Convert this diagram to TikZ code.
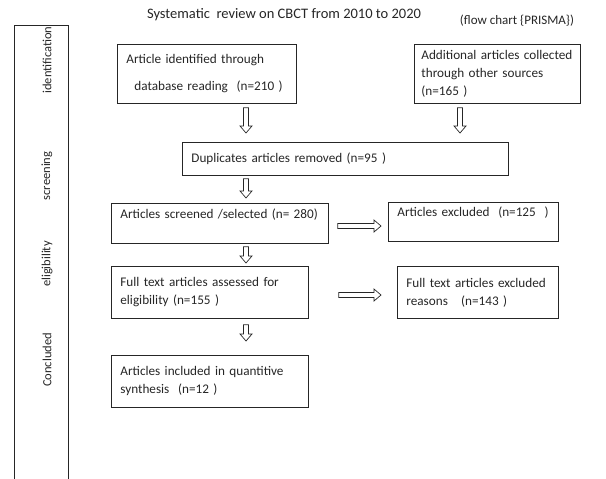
\documentclass[tikz,border=0pt]{standalone}
\usepackage{fontspec}
\setmainfont{Carlito}
\usetikzlibrary{calc}
\definecolor{ink}{gray}{0.15}
\tikzset{
  box/.style={draw=ink, line width=0.8pt, anchor=north west, align=left,
    inner xsep=9pt, inner ysep=0pt, font=\fontsize{13.2}{18}\selectfont, text=ink},
  side/.style={rotate=90, font=\fontsize{12.5}{15}\selectfont, text=ink},
  hollow/.style 2 args={draw=ink, line width=0.7pt, line join=miter, to path={
    let \p1=($(\tikztostart)!#1pt!(\tikztotarget)$),
        \p2=($(\tikztotarget)!#2pt!(\tikztostart)$),
        \p3=($(\p2)!7pt!(\p1)$),
        \n1={atan2(\y2-\y1,\x2-\x1)} in
    ($(\p1)+(\n1+90:2.5pt)$) -- ($(\p3)+(\n1+90:2.5pt)$) -- ($(\p3)+(\n1+90:6pt)$)
    -- (\p2) -- ($(\p3)+(\n1-90:6pt)$) -- ($(\p3)+(\n1-90:2.5pt)$)
    -- ($(\p1)+(\n1-90:2.5pt)$) -- cycle}}
}
\begin{document}
\begin{tikzpicture}[x=1pt,y=-1pt]
\useasboundingbox (0,0) rectangle (606,479);
% title
\node[font=\fontsize{14.5}{17}\selectfont, text=ink] (title) at (284,15) {Systematic\ \ review on CBCT from 2010 to 2020};
\node[font=\fontsize{13}{15}\selectfont, text=ink] (fc) at (517,21) {(flow chart \{PRISMA\})};
% side band
\draw[ink, line width=0.8pt] (14,479) -- (14,25) -- (68,25) -- (68,479);
\node[side] (s1) at (47,60) {identification};
\node[side] (s2) at (47,176) {screening};
\node[side] (s3) at (47,264) {eligibility};
\node[side] (s4) at (47,360) {Concluded};
% boxes
\node[box, minimum width=179pt, minimum height=59pt, text width=161pt] (b1) at (117,44)
  {Article identified through\\[9pt]\hspace*{8pt}database reading\ \ (n=210 )};
\node[box, inner xsep=7pt, minimum width=166pt, minimum height=59pt, text width=152pt] (b2) at (414,44)
  {\mbox{Additional articles collected}\\\mbox{through other sources}\\(n=165 )};
\node[box, minimum width=326pt, minimum height=33pt, text width=308pt] (b4) at (182,142)
  {Duplicates articles removed (n=95 )};
\node[box, minimum width=217pt, minimum height=40pt, text width=199pt] (b6) at (111,203)
  {Articles screened /selected (n= 280)\\[2pt]\mbox{}};
\node[box, minimum width=170pt, minimum height=39pt, text width=152pt] (b8) at (388,202)
  {Articles excluded\ \ (n=125\ \ )\\[2pt]\mbox{}};
\node[box, minimum width=197pt, minimum height=52pt, text width=179pt] (b10) at (111,266)
  {Full text articles assessed for\\eligibility (n=155 )};
\node[box, minimum width=161pt, minimum height=52pt, text width=143pt] (b12) at (397,266)
  {Full text articles excluded\\reasons\ \ \ (n=143 )};
\node[box, minimum width=197pt, minimum height=52pt, text width=179pt] (b14) at (111,355)
  {Articles included in quantitive\\synthesis\ \ (n=12 )};
% arrow guides
\coordinate (ax) at (246,0);
\coordinate (bx) at (460,0);
\coordinate (ay) at (0,226);
\coordinate (by) at (0,295);
% arrows
\draw[hollow={4}{9}] (b1.south -| ax) to (b4.north -| ax);
\draw[hollow={4}{9}] (b2.south -| bx) to (b4.north -| bx);
\draw[hollow={3}{5}] (b4.south -| ax) to (b6.north -| ax);
\draw[hollow={9}{7}] (b6.east |- ay) to (b8.west |- ay);
\draw[hollow={3}{3}] (b6.south -| ax) to (b10.north -| ax);
\draw[hollow={30}{16}] (b10.east |- by) to (b12.west |- by);
\draw[hollow={6}{14}] (b10.south -| ax) to (b14.north -| ax);
\end{tikzpicture}
\end{document}
